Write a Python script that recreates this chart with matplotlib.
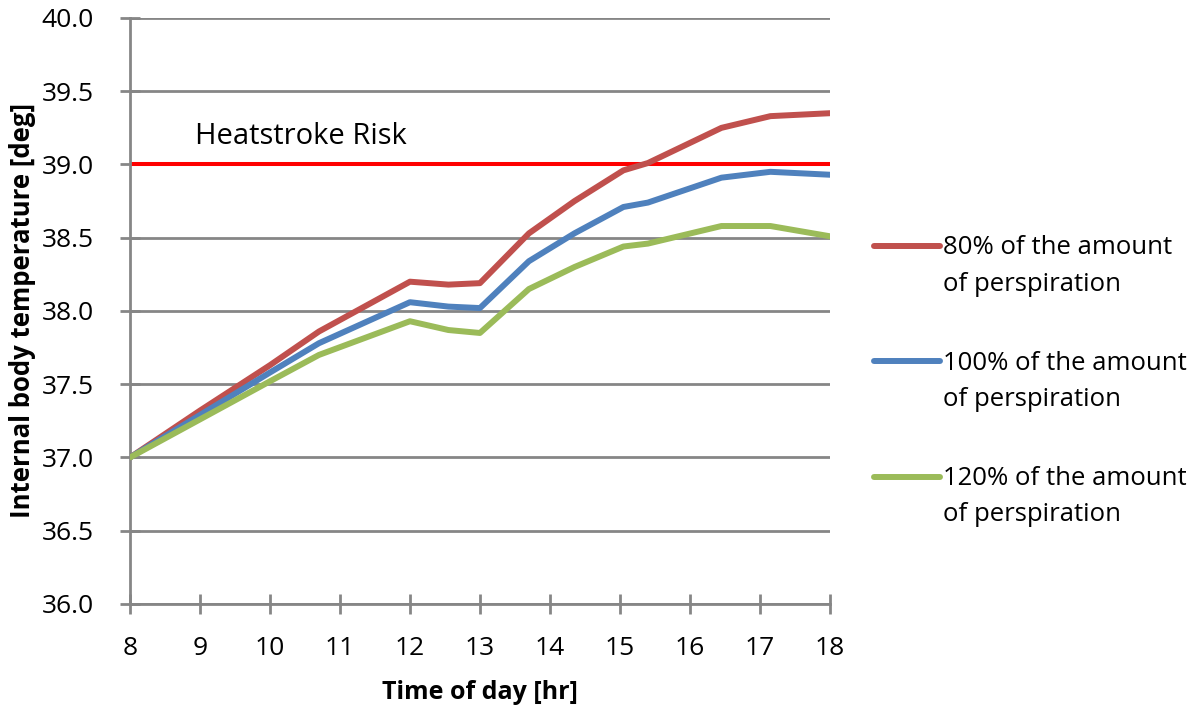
import numpy as np
import matplotlib
matplotlib.use("Agg")
import matplotlib.pyplot as plt
from matplotlib.legend_handler import HandlerLine2D
from matplotlib.lines import Line2D

# time of day [hr] at the polyline vertices
hours = [8, 9, 10, 10.7, 12, 12.55, 13, 13.7, 14.35, 15.05, 15.4, 16.45, 17.15, 18]

# internal body temperature [deg]
temp_80 = [37.0, 37.32, 37.63, 37.86, 38.20, 38.18, 38.19, 38.53, 38.75, 38.96, 39.01, 39.25, 39.33, 39.35]
temp_100 = [37.0, 37.29, 37.58, 37.78, 38.06, 38.03, 38.02, 38.34, 38.53, 38.71, 38.74, 38.91, 38.95, 38.93]
temp_120 = [37.0, 37.26, 37.52, 37.70, 37.93, 37.87, 37.85, 38.15, 38.30, 38.44, 38.46, 38.58, 38.58, 38.51]

labels = ["80% of the amount\nof perspiration",
          "100% of the amount\nof perspiration",
          "120% of the amount\nof perspiration"]
colors = ["#C0504D", "#4F81BD", "#9BBB59"]

heatstroke_level = 39.0
x_ticks = list(range(8, 19))
y_ticks = [36.0, 36.5, 37.0, 37.5, 38.0, 38.5, 39.0, 39.5, 40.0]


# legend key drawn on the first line of a two-line label
class HandlerTopLine(HandlerLine2D):
    def create_artists(self, legend, orig_handle, xdescent, ydescent,
                       width, height, fontsize, trans):
        artists = super().create_artists(legend, orig_handle, xdescent, ydescent,
                                         width, height, fontsize, trans)
        for a in artists:
            a.set_ydata(np.asarray(a.get_ydata()) + 0.8 * fontsize)
        return artists


fig = plt.figure(figsize=(12, 7.08), dpi=100)
ax = fig.add_axes([0.1083, 0.1469, 0.5833, 0.8277])

grid_color = "#868686"
ax.set_xlim(8, 18)
ax.set_ylim(36, 40)
ax.set_yticks(y_ticks)
ax.set_xticks(x_ticks)
ax.yaxis.grid(True, color=grid_color, linewidth=2)
ax.set_axisbelow(True)
for s in ["top", "right"]:
    ax.spines[s].set_visible(False)
for s in ["left", "bottom"]:
    ax.spines[s].set_color(grid_color)
    ax.spines[s].set_linewidth(2)
ax.tick_params(axis="both", direction="inout", length=14, width=2, color=grid_color,
               labelsize=19)
ax.tick_params(axis="y", pad=19)
ax.tick_params(axis="x", pad=16)
ax.set_yticklabels([f"{v:.1f}" for v in y_ticks], family="Open Sans")
ax.set_xticklabels([str(v) for v in x_ticks], family="Open Sans")

ax.axhline(heatstroke_level, color="#FF0000", linewidth=2.9, zorder=2)
ax.text(8.93, 39.19, "Heatstroke Risk", fontsize=21, family="Open Sans", va="center")

lines = []
for temps, c, lab in zip([temp_80, temp_100, temp_120], colors, labels):
    ln, = ax.plot(hours, temps, color=c, linewidth=4.3, label=lab,
                  solid_capstyle="round", solid_joinstyle="round", zorder=3)
    lines.append(ln)

ax.set_xlabel("Time of day [hr]", fontsize=18, fontweight="bold", family="Open Sans", labelpad=14)
ax.set_ylabel("Internal body temperature [deg]", fontsize=18.5, fontweight="bold", family="Open Sans", labelpad=4)

leg = fig.legend(handles=lines, loc="upper left", bbox_to_anchor=(0.718, 0.686),
                 frameon=False, borderpad=0, handlelength=2.55, handletextpad=0.1,
                 labelspacing=2.1, prop={"family": "Open Sans", "size": 18.5},
                 handler_map={Line2D: HandlerTopLine()})
for t in leg.get_texts():
    t.set_linespacing(1.6)

fig.savefig("out.png", dpi=100)
